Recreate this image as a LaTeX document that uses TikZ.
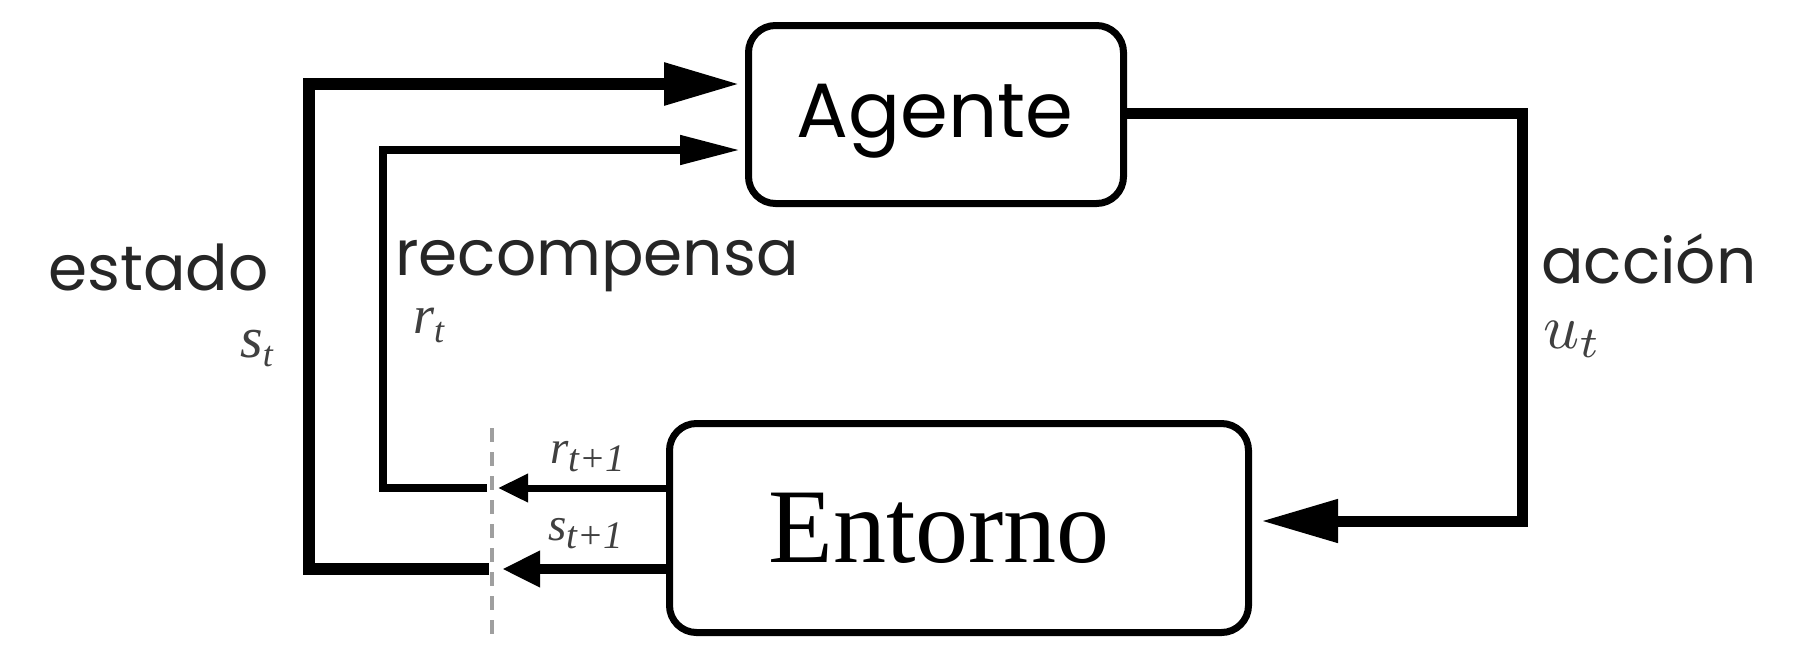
\documentclass[tikz,border=0pt]{standalone}
\usepackage{fontspec}
\setmainfont{Liberation Serif}
\newfontfamily\gothic{Poppins}
\usetikzlibrary{arrows.meta}
\tikzset{
  box/.style={draw, line width=7pt, rounded corners=27pt, inner sep=0pt},
  lbl/.style={font=\gothic\fontsize{63}{66}\selectfont, text=black!85, inner sep=0pt, anchor=base west},
  sym/.style={inner sep=0pt, anchor=base west, text=black!75},
  arr/.style 2 args={-{Triangle[length=#1,width=#2]}},
  wire/.style={line width=#1, line join=miter},
  cut/.style={draw=gray!75, line width=4pt, dash pattern=on 14pt off 10pt}
}
\newcommand\itsym[5]{{\fontsize{#1}{#1}\selectfont\itshape #2}\raisebox{#5}{\fontsize{#3}{#3}\selectfont\itshape #4}}
\begin{document}
\begin{tikzpicture}[x=1pt,y=-1pt]
\fill[white] (0,0) rectangle (1814,646);
\useasboundingbox (0,0) rectangle (1814,646);

% boxes
\node[box, minimum width=375pt, minimum height=178pt] (agente) at (936,114.5) {};
\node[box, minimum width=579pt, minimum height=209pt] (entorno) at (959,528) {};
\node[inner sep=0pt, anchor=base, font=\gothic\fontsize{77}{80}\selectfont] (agtxt) at (935,137) {Agente};
\node[inner sep=0pt, anchor=base, font=\fontsize{106}{110}\selectfont] (entxt) at (939,562) {Entorno};

% helper coordinates
\coordinate (ytop) at (0,84);
\coordinate (yrew) at (0,150);
\coordinate (yact) at (0,113);
\coordinate (yacb) at (0,521);
\coordinate (yr1) at (0,488);
\coordinate (ys1) at (0,569);
\coordinate (stip) at (502,569);
\coordinate (sgap) at (489,569);
\coordinate (rtip) at (498,488);
\coordinate (rgap) at (487,488);
\coordinate (souter) at (309,569);
\coordinate (stopc) at (309,84);
\coordinate (rinner) at (383,488);
\coordinate (rtopc) at (383,150);
\coordinate (acr) at (1522,113);
\coordinate (acb) at (1522,521);
\coordinate (dtop) at (492,428);
\coordinate (dbot) at (492,637);

% dashed cut line
\draw[cut] (dtop) -- (dbot);

% state loop
\draw[wire=10pt, arr={38pt}{34pt}] (entorno.west |- ys1) -- (stip);
\draw[wire=12pt, arr={76pt}{40pt}, shorten >=5pt] (sgap) -- (souter) -- (stopc) -- (agente.west |- ytop);

% reward loop
\draw[wire=7pt, arr={30pt}{27pt}] (entorno.west |- yr1) -- (rtip);
\draw[wire=8pt, arr={60pt}{28pt}, shorten >=5pt] (rgap) -- (rinner) -- (rtopc) -- (agente.west |- yrew);

% action loop
\draw[wire=11pt, arr={77pt}{41pt}, shorten >=9pt] (agente.east |- yact) -- (acr) -- (acb) -- (entorno.east |- yacb);

% labels
\node[lbl] (estado) at (48,290) {estado};
\node[lbl] (recomp) at (395,275) {recompensa};
\node[lbl] (accion) at (1541,283) {acción};

\node[sym] (st) at (240,357) {\itsym{58}{s}{36}{t}{-9pt}};
\node[sym] (rt) at (413,333) {\itsym{54}{r}{36}{t}{-9pt}};
\node[sym] (rt1) at (550,463) {\itsym{47}{r}{39}{t+1}{-8pt}};
\node[sym] (st1) at (548,540) {\itsym{47}{s}{39}{t+1}{-8pt}};
\node[sym] (ut) at (1543,348) {\scalebox{6.3}{$u_t$}};
\end{tikzpicture}
\end{document}
